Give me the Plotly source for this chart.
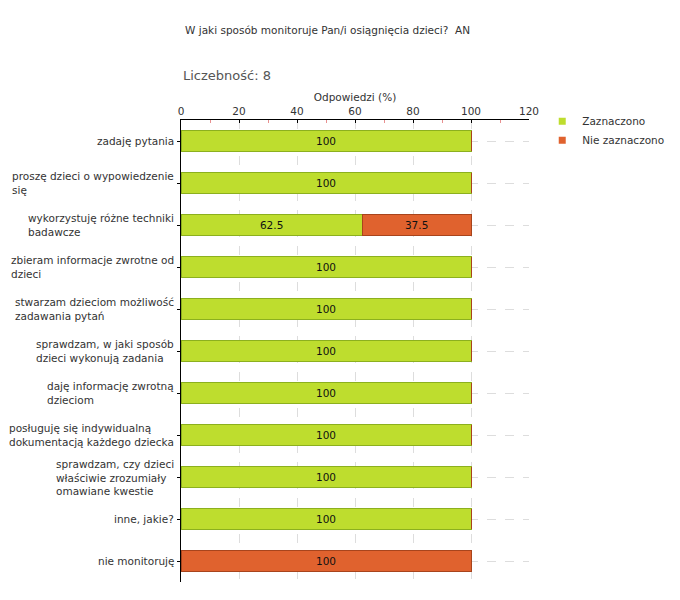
import plotly.graph_objects as go

categories = [
    "zadaję pytania",
    "proszę dzieci o wypowiedzenie<br>się",
    "wykorzystuję różne techniki<br>badawcze",
    "zbieram informacje zwrotne od<br>dzieci",
    "stwarzam dzieciom możliwość<br>zadawania pytań",
    "sprawdzam, w jaki sposób<br>dzieci wykonują zadania",
    "daję informację zwrotną<br>dzieciom",
    "posługuję się indywidualną<br>dokumentacją każdego dziecka",
    "sprawdzam, czy dzieci<br>właściwie zrozumiały<br>omawiane kwestie",
    "inne, jakie?",
    "nie monitoruję",
]
zaznaczono = [100, 100, 62.5, 100, 100, 100, 100, 100, 100, 100, 0]
nie_zaznaczono = [0, 0, 37.5, 0, 0, 0, 0, 0, 0, 0, 100]
series_names = ["Zaznaczono", "Nie zaznaczono"]
x_ticks = [0, 20, 40, 60, 80, 100, 120]

title_text = "W jaki sposób monitoruje Pan/i osiągnięcia dzieci?  AN"
count_text = "Liczebność: 8"
axis_title = "Odpowiedzi (%)"

FONT = "DejaVu Sans"
TXT = "#333333"
GREEN = "#BEDD2E"
GREEN_LINE = "#8CB01E"
ORANGE = "#E0622E"
ORANGE_LINE = "#A8441C"

ids = list(range(len(categories)))


def labels(vals):
    return [f"{v:g}" if v > 0 else "" for v in vals]


fig = go.Figure()
fig.add_trace(go.Bar(
    y=ids, x=zaznaczono, orientation="h", name=series_names[0],
    marker=dict(color=GREEN, line=dict(color=GREEN_LINE, width=1)),
    text=labels(zaznaczono), textposition="inside", insidetextanchor="middle",
    textfont=dict(family=FONT, size=10.5, color="#111111"),
    showlegend=False, hoverinfo="skip",
))
fig.add_trace(go.Bar(
    y=ids, x=nie_zaznaczono, orientation="h", name=series_names[1],
    marker=dict(color=ORANGE, line=dict(color=ORANGE_LINE, width=1)),
    text=labels(nie_zaznaczono), textposition="inside", insidetextanchor="middle",
    textfont=dict(family=FONT, size=10.5, color="#111111"),
    showlegend=False, hoverinfo="skip",
))
# legend entries with small square markers
for nm, col in zip(series_names, [GREEN, ORANGE]):
    fig.add_trace(go.Scatter(
        x=[None], y=[None], mode="markers", name=nm,
        marker=dict(symbol="square", size=7, color=col),
    ))

annotations = [
    dict(text=title_text, xref="paper", yref="paper", x=0.005, y=1.0,
         yshift=90, xanchor="left", yanchor="middle", showarrow=False,
         font=dict(family=FONT, size=10.5, color=TXT)),
    dict(text=count_text, xref="paper", yref="paper", x=0.0, y=1.0,
         yshift=45, xanchor="left", yanchor="middle", showarrow=False,
         font=dict(family=FONT, size=13, color="#555555")),
]
for i, c in enumerate(categories):
    annotations.append(dict(
        text=c, xref="paper", yref="y", x=0, y=i, xshift=-5,
        xanchor="right", yanchor="middle", align="left", showarrow=False,
        font=dict(family=FONT, size=10.5, color=TXT),
    ))

fig.update_layout(
    width=672, height=592,
    margin=dict(l=173, r=151, t=112, b=18, autoexpand=False),
    paper_bgcolor="white", plot_bgcolor="white",
    barmode="stack", bargap=0.52,
    font=dict(family=FONT, size=10.5, color=TXT),
    annotations=annotations,
    legend=dict(xref="container", yref="container", x=0.795, y=0.833,
                xanchor="left", yanchor="top", traceorder="normal",
                font=dict(family=FONT, size=10.5, color=TXT),
                itemwidth=30, tracegroupgap=0, bgcolor="rgba(0,0,0,0)"),
    xaxis=dict(
        side="top", range=[0, 120], tickvals=x_ticks,
        showline=True, linecolor="black", linewidth=1,
        ticks="inside", ticklen=3, tickcolor="black",
        minor=dict(dtick=10, ticks="inside", ticklen=3, tickcolor="#E89090", showgrid=False),
        showgrid=True, gridcolor="#DDDDDD", griddash="dash", gridwidth=1,
        zeroline=False,
        tickfont=dict(family=FONT, size=10.5, color=TXT),
        title=dict(text=axis_title, standoff=1,
                   font=dict(family=FONT, size=10.5, color=TXT)),
    ),
    yaxis=dict(
        range=[len(categories) - 0.5, -0.5],
        tickvals=ids, showticklabels=False,
        showline=True, linecolor="black", linewidth=1,
        ticks="outside", ticklen=3, tickcolor="black",
        showgrid=True, gridcolor="#DDDDDD", griddash="dash", gridwidth=1,
        zeroline=False,
    ),
)

fig.write_html("out.html")
